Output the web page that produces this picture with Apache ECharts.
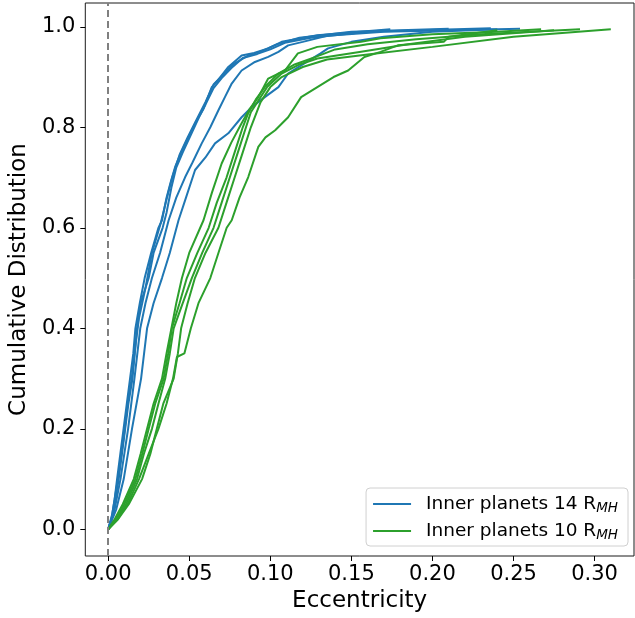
<!DOCTYPE html>
<html>
<head>
<meta charset="utf-8">
<script src="https://cdn.jsdelivr.net/npm/echarts@6/dist/echarts.min.js"></script>
<style>
  html, body { margin: 0; padding: 0; background: #fff; }
  #chart { width: 635px; height: 618px; }
</style>
</head>
<body>
<div id="chart"></div>
<script>
// cumulative distributions, [eccentricity, fraction]
var blue1 = [[0,0],[0.002,0.02],[0.004,0.06],[0.0055,0.1],[0.0075,0.15],[0.0095,0.2],[0.0115,0.25],[0.0135,0.3],[0.0155,0.35],[0.0168,0.4],[0.0195,0.45],[0.0225,0.5],[0.0265,0.55],[0.031,0.6],[0.0332,0.615],[0.036,0.66],[0.0385,0.69],[0.0413,0.721],[0.045,0.75],[0.0496,0.781],[0.054,0.81],[0.0588,0.837],[0.0639,0.88],[0.068,0.895],[0.0741,0.92],[0.0823,0.943],[0.09,0.948],[0.0987,0.957],[0.107,0.97],[0.129,0.983],[0.174,0.995]];
var blue2 = [[0,0],[0.003,0.03],[0.0065,0.1],[0.0085,0.15],[0.0105,0.2],[0.0125,0.25],[0.015,0.3],[0.0178,0.4],[0.02,0.45],[0.025,0.5],[0.028,0.55],[0.0336,0.6],[0.036,0.63],[0.039,0.68],[0.042,0.72],[0.046,0.75],[0.051,0.785],[0.056,0.82],[0.06,0.845],[0.065,0.878],[0.07,0.898],[0.076,0.918],[0.083,0.938],[0.092,0.946],[0.1,0.955],[0.109,0.968],[0.125,0.978],[0.16,0.99],[0.236,0.997]];
var blue3 = [[0,0],[0.004,0.04],[0.0076,0.1],[0.0123,0.2],[0.0162,0.3],[0.0198,0.4],[0.023,0.45],[0.027,0.5],[0.032,0.55],[0.0373,0.615],[0.042,0.66],[0.0475,0.701],[0.052,0.73],[0.0577,0.768],[0.063,0.8],[0.068,0.834],[0.072,0.86],[0.0762,0.887],[0.0823,0.913],[0.0905,0.93],[0.0987,0.94],[0.105,0.95],[0.111,0.963],[0.12,0.97],[0.135,0.982],[0.17,0.99],[0.254,0.996]];
var blue4 = [[0,0],[0.005,0.04],[0.0096,0.1],[0.0147,0.2],[0.0203,0.3],[0.024,0.4],[0.028,0.45],[0.0332,0.5],[0.038,0.55],[0.0434,0.615],[0.048,0.66],[0.0536,0.715],[0.06,0.74],[0.0659,0.768],[0.0741,0.788],[0.0823,0.82],[0.0885,0.84],[0.0966,0.86],[0.105,0.88],[0.111,0.907],[0.12,0.925],[0.131,0.947],[0.1356,0.957],[0.15,0.97],[0.17,0.98],[0.2,0.99],[0.24,0.995]];
var blue5 = [[0,0],[0.0025,0.03],[0.006,0.1],[0.0095,0.18],[0.012,0.25],[0.0145,0.3],[0.017,0.37],[0.019,0.42],[0.023,0.48],[0.027,0.55],[0.0325,0.61],[0.0355,0.65],[0.0395,0.7],[0.044,0.745],[0.049,0.78],[0.0545,0.815],[0.06,0.85],[0.065,0.885],[0.071,0.905],[0.077,0.925],[0.086,0.942],[0.095,0.952],[0.104,0.965],[0.118,0.978],[0.15,0.99],[0.21,0.996]];

var green1 = [[0,0],[0.004,0.02],[0.009,0.05],[0.0158,0.1],[0.02,0.15],[0.024,0.2],[0.028,0.25],[0.0332,0.3],[0.036,0.35],[0.039,0.4],[0.042,0.45],[0.0455,0.5],[0.05,0.55],[0.0588,0.615],[0.064,0.67],[0.07,0.728],[0.076,0.77],[0.0823,0.808],[0.087,0.835],[0.0926,0.86],[0.0987,0.897],[0.109,0.913],[0.117,0.947],[0.129,0.96],[0.156,0.97],[0.168,0.977],[0.2,0.985],[0.24,0.99],[0.267,0.995]];
var green2 = [[0,0],[0.005,0.02],[0.01,0.05],[0.0168,0.1],[0.021,0.15],[0.025,0.2],[0.029,0.25],[0.0342,0.3],[0.037,0.35],[0.0393,0.4],[0.044,0.45],[0.0485,0.5],[0.055,0.55],[0.062,0.6],[0.067,0.65],[0.073,0.7],[0.078,0.75],[0.083,0.8],[0.0864,0.828],[0.091,0.855],[0.0966,0.88],[0.105,0.907],[0.115,0.925],[0.128,0.94],[0.14,0.955],[0.16,0.965],[0.19,0.975],[0.23,0.985],[0.291,0.995]];
var green3 = [[0,0],[0.006,0.02],[0.011,0.05],[0.0178,0.1],[0.022,0.15],[0.027,0.2],[0.031,0.25],[0.0352,0.3],[0.038,0.35],[0.0404,0.4],[0.046,0.45],[0.0516,0.5],[0.058,0.55],[0.065,0.6],[0.07,0.65],[0.075,0.7],[0.08,0.75],[0.085,0.8],[0.088,0.83],[0.093,0.855],[0.098,0.88],[0.107,0.907],[0.118,0.925],[0.129,0.937],[0.155,0.95],[0.185,0.965],[0.22,0.98],[0.275,0.993]];
var green4 = [[0,0],[0.006,0.02],[0.0127,0.05],[0.0209,0.1],[0.026,0.15],[0.03,0.2],[0.034,0.25],[0.0404,0.3],[0.043,0.35],[0.045,0.4],[0.049,0.45],[0.0535,0.5],[0.06,0.55],[0.068,0.6],[0.073,0.65],[0.078,0.7],[0.083,0.75],[0.088,0.8],[0.094,0.85],[0.1,0.88],[0.107,0.9],[0.12,0.92],[0.135,0.935],[0.16,0.945],[0.2,0.96],[0.25,0.98],[0.31,0.995]];
var green5 = [[0,0],[0.005,0.02],[0.012,0.05],[0.019,0.1],[0.025,0.15],[0.031,0.2],[0.036,0.25],[0.04,0.3],[0.0424,0.343],[0.047,0.35],[0.051,0.4],[0.0557,0.45],[0.063,0.5],[0.068,0.55],[0.0731,0.6],[0.0762,0.615],[0.081,0.66],[0.0864,0.701],[0.0926,0.761],[0.097,0.78],[0.103,0.794],[0.111,0.82],[0.119,0.86],[0.129,0.88],[0.139,0.9],[0.148,0.913],[0.158,0.94],[0.168,0.95],[0.1786,0.963],[0.207,0.97],[0.21,0.98],[0.24,0.993]];

var xTicks = [0, 0.05, 0.1, 0.15, 0.2, 0.25, 0.3];
var yTicks = [0, 0.2, 0.4, 0.6, 0.8, 1.0];

var blueName = 'Inner planets 14 R_MH';
var greenName = 'Inner planets 10 R_MH';

var chart = echarts.init(document.getElementById('chart'));

var series = [];
function addLine(name, color, data) {
    series.push({
        name: name,
        type: 'line',
        data: data,
        symbol: 'none',
        smooth: false,
        lineStyle: { color: color, width: 2 },
        itemStyle: { color: color }
    });
}
[blue1, blue2, blue3, blue4, blue5].forEach(function (d) { addLine(blueName, '#1f77b4', d); });
[green1, green2, green3, green4, green5].forEach(function (d) { addLine(greenName, '#2ca02c', d); });

// dashed line at e = 0
series[0].markLine = {
    silent: true,
    symbol: 'none',
    label: { show: false },
    lineStyle: { color: '#808080', type: [7, 4], width: 2, opacity: 1 },
    data: [{ xAxis: 0 }]
};

var option = {
    animation: false,
    backgroundColor: '#fff',
    grid: {
        left: 83, right: 1, top: 3, bottom: 62,
        show: true, borderColor: '#1a1a1a', borderWidth: 1
    },
    xAxis: {
        type: 'value',
        min: -0.0141,
        max: 0.3243,
        name: 'Eccentricity',
        nameLocation: 'middle',
        nameGap: 31,
        nameTextStyle: { fontFamily: 'DejaVu Sans', fontSize: 23, color: '#000' },
        axisLine: { show: false, onZero: false },
        splitLine: { show: false },
        axisTick: { show: true, inside: false, length: 5, customValues: xTicks, lineStyle: { color: '#000' } },
        axisLabel: {
            customValues: xTicks, margin: 8,
            fontFamily: 'DejaVu Sans', fontSize: 21, color: '#000',
            formatter: function (v) { return v.toFixed(2); }
        }
    },
    yAxis: {
        type: 'value',
        min: -0.053,
        max: 1.0473,
        name: 'Cumulative Distribution',
        nameLocation: 'middle',
        nameGap: 52,
        nameTextStyle: { fontFamily: 'DejaVu Sans', fontSize: 23, color: '#000' },
        axisLine: { show: false, onZero: false },
        splitLine: { show: false },
        axisTick: { show: true, inside: false, length: 5, customValues: yTicks, lineStyle: { color: '#000' } },
        axisLabel: {
            customValues: yTicks, margin: 10,
            fontFamily: 'DejaVu Sans', fontSize: 21, color: '#000',
            formatter: function (v) { return v.toFixed(1); }
        }
    },
    legend: {
        data: [blueName, greenName],
        orient: 'vertical',
        right: 7,
        bottom: 72,
        icon: 'rect',
        itemWidth: 38,
        itemHeight: 2,
        itemGap: 5,
        padding: [5, 10, 4, 7],
        borderColor: '#d0d0d0',
        borderWidth: 1,
        borderRadius: 4,
        backgroundColor: 'rgba(255,255,255,0.8)',
        formatter: function (n) { return n.replace('_MH', '{s|MH}'); },
        textStyle: {
            fontFamily: 'DejaVu Sans', fontSize: 18.5, color: '#000', lineHeight: 22,
            padding: [0, 0, 0, 10],
            rich: {
                s: { fontFamily: 'DejaVu Sans', fontSize: 13.5, fontStyle: 'italic', lineHeight: 10, verticalAlign: 'bottom', color: '#000' }
            }
        }
    },
    series: series
};

chart.setOption(option);
</script>
</body>
</html>
